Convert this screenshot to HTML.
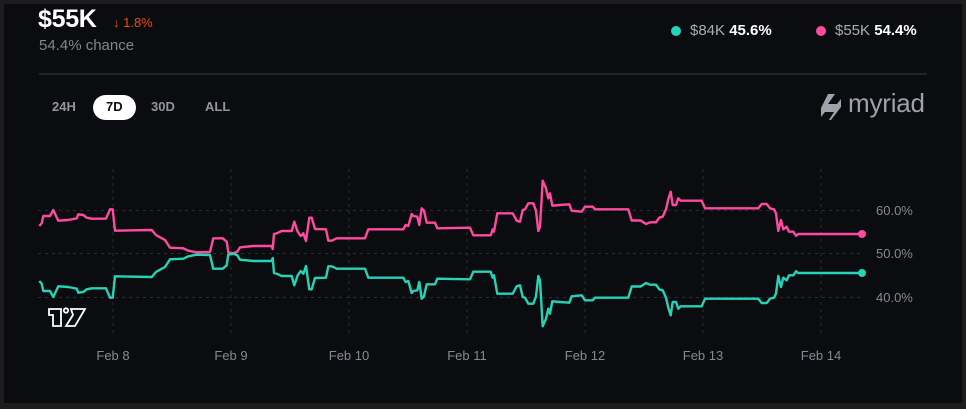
<!DOCTYPE html>
<html><head><meta charset="utf-8"><style>
html,body{margin:0;padding:0;background:#1d1d1e;}
body{width:966px;height:409px;position:relative;overflow:hidden;font-family:"Liberation Sans",sans-serif;}
.panel{position:absolute;left:4px;top:4px;width:958px;height:399px;background:#0b0c10;}
.abs{position:absolute;white-space:nowrap;}
.btn{font-size:13px;color:#92959c;font-weight:bold;}
</style></head><body>
<div class="panel"></div>
<div class="abs" style="left:38px;top:5px;font-size:25px;font-weight:bold;color:#ffffff;letter-spacing:-0.3px;">$55K</div>
<div class="abs" style="left:113px;top:15px;font-size:13px;color:#f0471c;">↓ 1.8%</div>
<div class="abs" style="left:39px;top:37px;font-size:15px;color:#83868d;">54.4% chance</div>

<div class="abs" style="left:671px;top:26px;width:10px;height:10px;border-radius:50%;background:#26d3b6;"></div>
<div class="abs" style="left:690px;top:22px;font-size:15px;color:#a9acb2;">$84K <b style="color:#fff;">45.6%</b></div>
<div class="abs" style="left:816px;top:26px;width:10px;height:10px;border-radius:50%;background:#ff4aa0;"></div>
<div class="abs" style="left:835px;top:22px;font-size:15px;color:#a9acb2;">$55K <b style="color:#fff;">54.4%</b></div>

<div class="abs" style="left:39px;top:73px;width:888px;height:2px;background:#22242a;"></div>

<div class="abs btn" style="left:52px;top:99px;">24H</div>
<div class="abs" style="left:93px;top:95px;width:43px;height:25px;border-radius:13px;background:#fff;"></div>
<div class="abs btn" style="left:106px;top:99px;color:#0b0c10;">7D</div>
<div class="abs btn" style="left:151px;top:99px;">30D</div>
<div class="abs btn" style="left:205px;top:99px;">ALL</div>

<svg class="abs" style="left:819px;top:93px;" width="26" height="28" viewBox="0 0 26 28">
<path d="M9 1 L16 1 L9 11 L18 11 L22 6 L22 14 L12 27 L10 27 L15 19 L6 19 L2 24 L2 15 Z" fill="#9ea2ab"/>
</svg>
<div class="abs" style="left:848px;top:88px;font-size:26px;color:#9ea2ab;letter-spacing:-0.2px;">myriad</div>

<svg class="abs" style="left:0;top:0;" width="966" height="409">
<g stroke="#2a2c33" stroke-width="1" stroke-dasharray="3,4">
<line x1="38" y1="210.5" x2="862" y2="210.5"/>
<line x1="38" y1="253.5" x2="862" y2="253.5"/>
<line x1="38" y1="297.5" x2="862" y2="297.5"/>
<line x1="113" y1="169" x2="113" y2="337"/>
<line x1="231" y1="169" x2="231" y2="337"/>
<line x1="349" y1="169" x2="349" y2="337"/>
<line x1="467" y1="169" x2="467" y2="337"/>
<line x1="585" y1="169" x2="585" y2="337"/>
<line x1="703" y1="169" x2="703" y2="337"/>
<line x1="821" y1="169" x2="821" y2="337"/>
</g>
<g font-family="Liberation Sans, sans-serif" font-size="13" fill="#868990">
<text x="876" y="215">60.0%</text>
<text x="876" y="258">50.0%</text>
<text x="876" y="302">40.0%</text>
<g text-anchor="middle">
<text x="113" y="360">Feb 8</text>
<text x="231" y="360">Feb 9</text>
<text x="349" y="360">Feb 10</text>
<text x="467" y="360">Feb 11</text>
<text x="585" y="360">Feb 12</text>
<text x="703" y="360">Feb 13</text>
<text x="821" y="360">Feb 14</text>
</g>
</g>
<polyline fill="none" stroke="#ff4aa0" stroke-width="2.4" stroke-linejoin="round" points="39.3,226 41.7,223.3 43.3,216 50,216 53.3,210 58.3,220.7 68.3,220 76.7,218.3 78.3,214.3 83.3,215 86.7,217.7 91.7,218.7 106,218.7 110,209.3 112.7,209.3 115,230.7 151.7,230 156,235 160,237.3 165,240 170,247.7 183.3,248.3 188.3,250.7 196.7,252.3 210,252 213.3,238.3 222.7,238.3 226.7,241.7 228.3,252.3 233.3,253.3 237.3,251.7 240,247.3 253.3,246 271.7,246 272.7,249 274,234 276.7,233.3 281.7,231 291.7,231 294.3,221.7 297.7,231.7 300.7,236 303.3,233.3 306,241 309.3,217.7 311.7,217.7 315,229 326,229.3 328.3,240.7 331.7,240.7 336.7,238.3 365,238.3 368.3,229.3 403.3,229.3 405.7,225 408.3,226 411.7,214 413.3,216 417.3,216.7 419.3,225 421.7,208.3 424,210.7 426.7,222.7 435,222.7 437.3,228.3 470,227.7 473.3,235.3 490.7,235.3 492.7,229.3 494,231.7 497.3,213.3 512.7,213.3 516.7,220.7 520,221.7 522.7,210 525,209.3 528.3,203.3 533.3,203.3 536,210.7 538.3,231 540,226.7 542.7,180.7 546,188.3 548.3,198.3 550,193.3 552.3,205.7 560,205 569.3,204.3 571.7,210.7 581.7,211.7 585,206.7 592.7,206.7 595,209.3 628.3,209.3 631.7,220.5 640.7,220.5 646,224 650,222.3 656,222.3 659.3,217.7 662.7,216.7 666,209.3 668.3,199.3 670.7,191.7 672.7,205 676,205 678.3,198.3 680.7,200.7 701.7,200.7 705,208.3 758.3,208.3 761.7,204 766.7,204 770,208.3 774,209.3 776,213.3 778.3,231 781,220 783.3,229.3 786.7,226.7 789,231.7 793.3,231.7 796,235.7 798.3,234 862,234"/>
<g transform="translate(0,507) scale(1,-1)">
<polyline fill="none" stroke="#26d3b6" stroke-width="2.4" stroke-linejoin="round" points="39.3,226 41.7,223.3 43.3,216 50,216 53.3,210 58.3,220.7 68.3,220 76.7,218.3 78.3,214.3 83.3,215 86.7,217.7 91.7,218.7 106,218.7 110,209.3 112.7,209.3 115,230.7 151.7,230 156,235 160,237.3 165,240 170,247.7 183.3,248.3 188.3,250.7 196.7,252.3 210,252 213.3,238.3 222.7,238.3 226.7,241.7 228.3,252.3 233.3,253.3 237.3,251.7 240,247.3 253.3,246 271.7,246 272.7,249 274,234 276.7,233.3 281.7,231 291.7,231 294.3,221.7 297.7,231.7 300.7,236 303.3,233.3 306,241 309.3,217.7 311.7,217.7 315,229 326,229.3 328.3,240.7 331.7,240.7 336.7,238.3 365,238.3 368.3,229.3 403.3,229.3 405.7,225 408.3,226 411.7,214 413.3,216 417.3,216.7 419.3,225 421.7,208.3 424,210.7 426.7,222.7 435,222.7 437.3,228.3 470,227.7 473.3,235.3 490.7,235.3 492.7,229.3 494,231.7 497.3,213.3 512.7,213.3 516.7,220.7 520,221.7 522.7,210 525,209.3 528.3,203.3 533.3,203.3 536,210.7 538.3,231 540,226.7 542.7,180.7 546,188.3 548.3,198.3 550,193.3 552.3,205.7 560,205 569.3,204.3 571.7,210.7 581.7,211.7 585,206.7 592.7,206.7 595,209.3 628.3,209.3 631.7,220.5 640.7,220.5 646,224 650,222.3 656,222.3 659.3,217.7 662.7,216.7 666,209.3 668.3,199.3 670.7,191.7 672.7,205 676,205 678.3,198.3 680.7,200.7 701.7,200.7 705,208.3 758.3,208.3 761.7,204 766.7,204 770,208.3 774,209.3 776,213.3 778.3,231 781,220 783.3,229.3 786.7,226.7 789,231.7 793.3,231.7 796,235.7 798.3,234 862,234"/>
</g>
<circle cx="862" cy="234" r="4" fill="#ff4aa0"/>
<circle cx="862" cy="273" r="4" fill="#26d3b6"/>
<g fill="#0b0c10" stroke="#ffffff" stroke-width="1.8" stroke-linejoin="miter">
<path d="M49 309 L61 309 L61 326 L53 326 L53 315 L49 315 Z"/>
<circle cx="66" cy="310.5" r="2.2"/>
<path d="M71 309 L85 309 L75 326 L66 326 L73 315 Z"/>
</g>
</svg>
</body></html>
